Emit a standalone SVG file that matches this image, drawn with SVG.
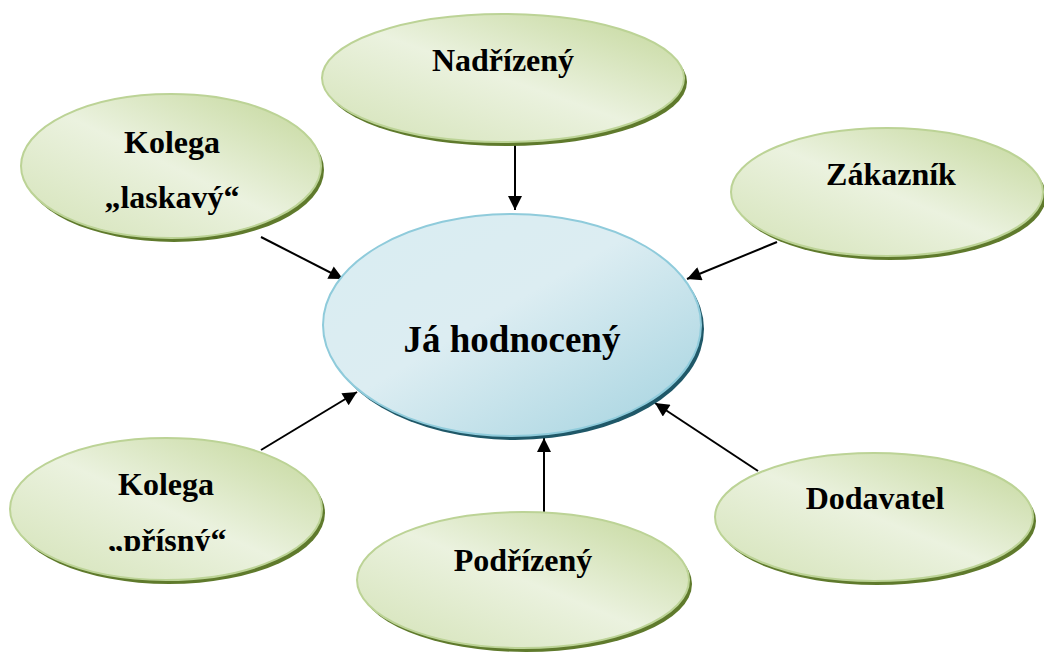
<svg xmlns="http://www.w3.org/2000/svg" width="1044" height="652" viewBox="0 0 1044 652">
<defs>
<linearGradient id="gG" x1="1" y1="0" x2="0" y2="1">
<stop offset="0" stop-color="#c2d698"/>
<stop offset="0.5" stop-color="#ebf2df"/>
<stop offset="1" stop-color="#d3e2b6"/>
</linearGradient>
<linearGradient id="gB" x1="0" y1="0" x2="1" y2="1">
<stop offset="0" stop-color="#d9edf2"/>
<stop offset="0.45" stop-color="#dcedf2"/>
<stop offset="1" stop-color="#a3d2df"/>
</linearGradient>
<marker id="ah" viewBox="0 0 10 10" refX="10" refY="5" markerWidth="7.5" markerHeight="7" orient="auto" markerUnits="strokeWidth">
<path d="M0,0 L10,5 L0,10 z" fill="#000"/>
</marker>
<clipPath id="clipP"><rect x="0" y="0" width="400" height="551"/></clipPath>
<style>
.sg{fill:#5f7a2c}
.g{fill:url(#gG);stroke:#bcd396;stroke-width:2}
.sb{fill:#1f5868}
.b{fill:url(#gB);stroke:#8fcbdb;stroke-width:2}
.t{font-family:"Liberation Serif","Times New Roman",serif;font-weight:bold;font-size:32px;fill:#000;text-anchor:middle}
.tc{font-size:37px}
.c{stroke:#000;stroke-width:2;fill:none;marker-end:url(#ah)}
</style>
</defs>
<rect width="1044" height="652" fill="#fff"/>
<g id="connectors">
<line class="c" x1="515" y1="145" x2="515" y2="210"/>
<line class="c" x1="261" y1="237" x2="343" y2="279"/>
<line class="c" x1="777" y1="242" x2="687" y2="279"/>
<line class="c" x1="261" y1="450" x2="357" y2="392"/>
<line class="c" x1="758" y1="471" x2="655" y2="403"/>
<line class="c" x1="544" y1="512" x2="544" y2="438"/>
</g>
<g id="center">
<ellipse class="sb" cx="515" cy="329" rx="189" ry="111"/>
<ellipse class="b" cx="512" cy="325" rx="189" ry="111"/>
<text class="t tc" x="512" y="352">Já hodnocený</text>
</g>
<g id="nadrizeny">
<ellipse class="sg" cx="506" cy="82" rx="181" ry="64"/>
<ellipse class="g" cx="503" cy="78" rx="181" ry="64"/>
<text class="t" x="503" y="71">Nadřízený</text>
</g>
<g id="kolega-laskavy">
<ellipse class="sg" cx="174" cy="170" rx="150" ry="72"/>
<ellipse class="g" cx="171" cy="166" rx="150" ry="72"/>
<text class="t" x="172" y="153">Kolega</text>
<text class="t" x="172" y="208">„laskavý“</text>
</g>
<g id="zakaznik">
<ellipse class="sg" cx="890" cy="196" rx="156" ry="64"/>
<ellipse class="g" cx="887" cy="192" rx="156" ry="64"/>
<text class="t" x="891" y="185">Zákazník</text>
</g>
<g id="kolega-prisny">
<ellipse class="sg" cx="169" cy="513" rx="156" ry="71"/>
<ellipse class="g" cx="166" cy="509" rx="156" ry="71"/>
<text class="t" x="166" y="495">Kolega</text>
<text class="t" x="167" y="551" clip-path="url(#clipP)">„přísný“</text>
</g>
<g id="dodavatel">
<ellipse class="sg" cx="877" cy="521" rx="159" ry="64"/>
<ellipse class="g" cx="874" cy="517" rx="159" ry="64"/>
<text class="t" x="875" y="509">Dodavatel</text>
</g>
<g id="podrizeny">
<ellipse class="sg" cx="526" cy="584" rx="166" ry="68"/>
<ellipse class="g" cx="523" cy="580" rx="166" ry="68"/>
<text class="t" x="523" y="571">Podřízený</text>
</g>
</svg>
